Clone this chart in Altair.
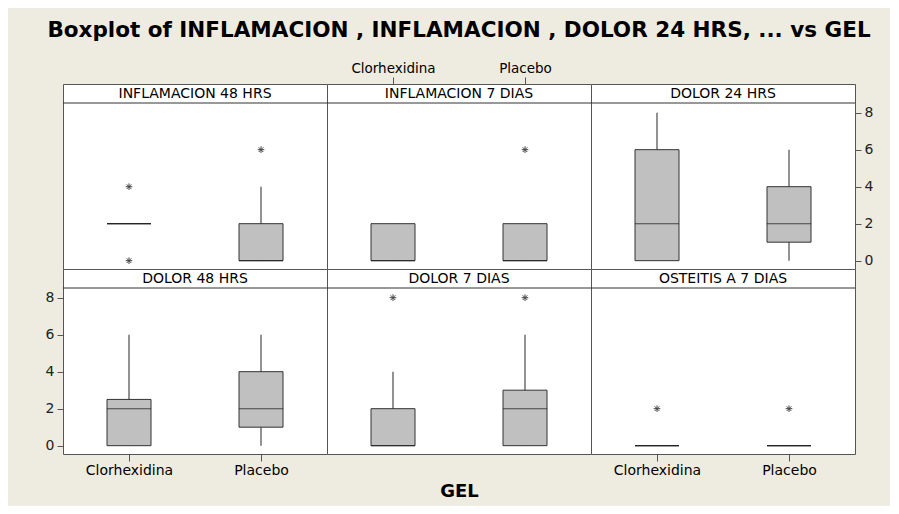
import altair as alt
import pandas as pd

# ---------------- data ----------------
panel_names = ["INFLAMACION 48 HRS", "INFLAMACION 7 DIAS", "DOLOR 24 HRS",
               "DOLOR 48 HRS", "DOLOR 7 DIAS", "OSTEITIS A 7 DIAS"]
groups = ["Clorhexidina", "Placebo"]

# one entry per (panel, group), panel-major order
stat_panel = [p for p in panel_names for _ in groups]
stat_group = groups * len(panel_names)
whisker_low = [2, 0,   0, 0,   0, 0,   0, 0,   0, 0,   0, 0]
box_q1      = [2, 0,   0, 0,   0, 1,   0, 1,   0, 0,   0, 0]
box_median  = [2, 0,   0, 0,   2, 2,   2, 2,   0, 2,   0, 0]
box_q3      = [2, 2,   2, 2,   6, 4,   2.5, 4, 2, 3,   0, 0]
whisker_high= [2, 4,   2, 2,   8, 6,   6, 6,   4, 6,   0, 0]

outlier_panel = ["INFLAMACION 48 HRS", "INFLAMACION 48 HRS", "INFLAMACION 48 HRS",
                 "INFLAMACION 7 DIAS", "DOLOR 7 DIAS", "DOLOR 7 DIAS",
                 "OSTEITIS A 7 DIAS", "OSTEITIS A 7 DIAS"]
outlier_group = ["Clorhexidina", "Clorhexidina", "Placebo",
                 "Placebo", "Clorhexidina", "Placebo",
                 "Clorhexidina", "Placebo"]
outlier_value = [4, 0, 6, 6, 8, 8, 2, 2]

y_ticks = [0, 2, 4, 6, 8]
title_text = "Boxplot of INFLAMACION , INFLAMACION , DOLOR 24 HRS, ... vs GEL"
x_title = "GEL"

stats = pd.DataFrame({"panel": stat_panel, "group": stat_group, "lo": whisker_low,
                      "q1": box_q1, "med": box_median, "q3": box_q3, "hi": whisker_high})
outs = pd.DataFrame({"panel": outlier_panel, "group": outlier_group, "value": outlier_value})

# ---------------- style ----------------
W, H = 264, 185
STRIP = 19
FONT = "DejaVu Sans"
ASTERISK = "M-1,0L1,0M0,-1L0,1M-0.7,-0.7L0.7,0.7M-0.7,0.7L0.7,-0.7"
yscale = alt.Scale(domain=[-0.45, 9.55], nice=False, zero=False)
xscale = alt.Scale(type="point", domain=groups, padding=0.5)


def x_axis(kind):
    if kind == "top":
        return alt.Axis(orient="top", title=None, domain=False, grid=False, tickSize=7,
                        tickColor="#555555", labelFont=FONT, labelFontSize=13.5,
                        labelColor="black", labelPadding=2, labelAngle=0)
    if kind == "bottom":
        return alt.Axis(orient="bottom", title=None, domain=False, grid=False, tickSize=7,
                        tickColor="#555555", labelFont=FONT, labelFontSize=14,
                        labelColor="black", labelPadding=2, labelAngle=0)
    if kind == "title":
        return alt.Axis(orient="bottom", title=x_title, domain=False, grid=False, ticks=False,
                        labels=False, titleFont=FONT, titleFontSize=18, titleFontWeight="bold",
                        titleColor="black", titlePadding=28)
    return None


def y_axis(kind):
    if kind in ("left", "right"):
        return alt.Axis(orient=kind, title=None, domain=False, grid=False, values=y_ticks,
                        tickSize=6, tickColor="#555555", labelFont=FONT, labelFontSize=14,
                        labelColor="#222222", labelPadding=3)
    return None


def panel(name, xk, yk):
    s = stats[stats.panel == name]
    o = outs[outs.panel == name]
    X = alt.X("group:N", scale=xscale, axis=x_axis(xk), sort=groups)
    whisk = alt.Chart(s).mark_rule(color="#6e6e6e", strokeWidth=1.5).encode(
        x=X, y=alt.Y("lo:Q", scale=yscale, axis=y_axis(yk)), y2="hi:Q")
    box = alt.Chart(s).mark_bar(size=44, color="#c0c0c0", stroke="#333333", strokeWidth=1).encode(
        x=X, y=alt.Y("q1:Q", scale=yscale), y2="q3:Q")
    med = alt.Chart(s).mark_tick(size=44, thickness=1, color="#111111", orient="horizontal").encode(
        x=X, y=alt.Y("med:Q", scale=yscale))
    pts = alt.Chart(o).mark_point(shape=ASTERISK, size=44, filled=False, stroke="#444444",
                                  strokeWidth=1, opacity=1).encode(
        x=X, y=alt.Y("value:Q", scale=yscale))
    strip_line = alt.Chart(pd.DataFrame({"t": [name]})).mark_rule(color="#333333", strokeWidth=1).encode(
        x=alt.value(0), x2=alt.value(W), y=alt.value(STRIP))
    strip_text = alt.Chart(pd.DataFrame({"t": [name]})).mark_text(
        font=FONT, fontSize=14, color="black", baseline="middle", align="center").encode(
        text="t:N", x=alt.value(W / 2), y=alt.value(STRIP / 2 + 0.5))
    return alt.layer(whisk, box, med, pts, strip_line, strip_text).properties(width=W, height=H)


cfg = [("none", "none"), ("top", "none"), ("none", "right"),
       ("bottom", "left"), ("title", "none"), ("bottom", "none")]
panels = [panel(n, xk, yk) for n, (xk, yk) in zip(panel_names, cfg)]

chart = alt.concat(*panels, columns=3, spacing=0, bounds="flush").properties(
    title=alt.TitleParams(title_text, font=FONT, fontSize=21.5,
                          fontWeight="bold", color="black", anchor="middle", offset=19),
    background="#eeebe1",
    padding={"left": 36, "top": 12, "right": 16, "bottom": 5},
).configure_view(stroke="#555555", strokeWidth=1, fill="white")

chart.save("out.html", embed_options={"renderer": "svg", "actions": False})
